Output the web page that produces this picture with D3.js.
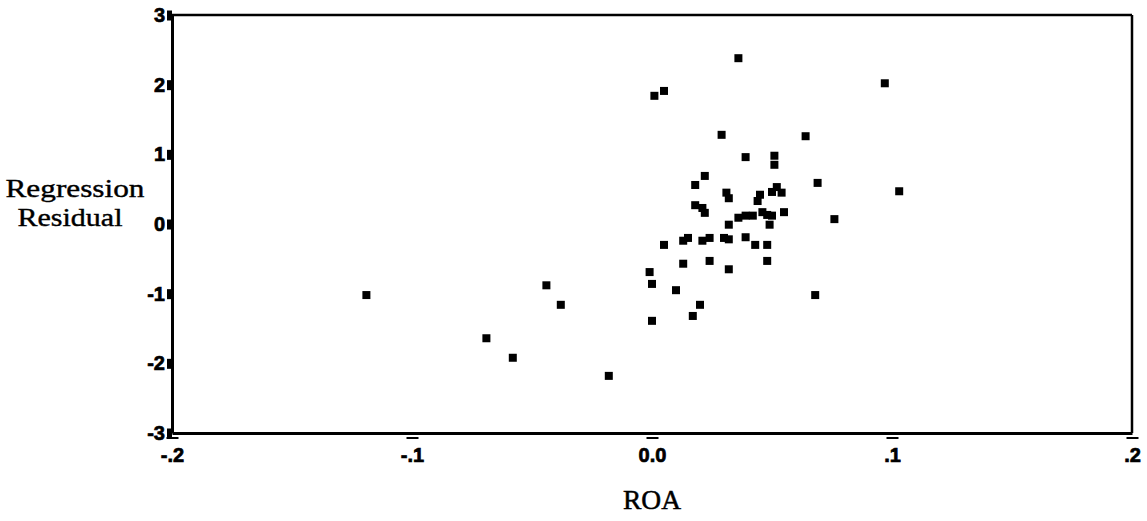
<!DOCTYPE html>
<html>
<head>
<meta charset="utf-8">
<script src="https://cdn.jsdelivr.net/npm/d3@7"></script>
<style>
  body { margin: 0; background: #fff; }
  svg { display: block; }
</style>
</head>
<body>
<div id="chart"></div>
<script>
const width = 1147;
const height = 521;

// ROA (x) and regression residual (y) for each case
const roa = [
  -0.119, -0.044, -0.038, -0.069, -0.058, -0.018,
  0.036, 0.001, 0.005, 0.029, 0.064, 0.039, 0.051, 0.051, 0.022,
  0.097, 0.069, 0.103, 0.076, 0.018, 0.031, 0.032, 0.052, 0.050,
  0.054, 0.045, 0.044, 0.018, 0.021, 0.022, 0.032, 0.036, 0.039,
  0.042, 0.046, 0.048, 0.050, 0.055, 0.049, 0.005, 0.013, 0.015,
  0.021, 0.024, 0.030, 0.032, 0.039, 0.043, 0.048, 0.013, 0.024,
  0.032, 0.048, -0.001, 0.000, 0.010, 0.068, 0.020, 0.017, 0.000
];
const residual = [
  -1.02, -0.88, -1.16, -1.64, -1.92, -2.18,
  2.38, 1.84, 1.91, 1.28, 1.26, 0.96, 0.98, 0.85, 0.69,
  2.02, 0.59, 0.47, 0.07, 0.56, 0.45, 0.37, 0.53, 0.46,
  0.45, 0.42, 0.33, 0.27, 0.23, 0.16, -0.01, 0.09, 0.12,
  0.12, 0.17, 0.13, 0.12, 0.17, -0.01, -0.30, -0.24, -0.20,
  -0.24, -0.20, -0.20, -0.22, -0.19, -0.30, -0.30, -0.57, -0.53,
  -0.65, -0.53, -0.69, -0.86, -0.95, -1.02, -1.16, -1.32, -1.39
];

const xTicks = [-0.2, -0.1, 0, 0.1, 0.2];
const xTickLabels = ["-.2", "-.1", "0.0", ".1", ".2"];
const yTicks = [-3, -2, -1, 0, 1, 2, 3];

const margin = { top: 15, right: 15, bottom: 88, left: 172 };
const innerW = width - margin.left - margin.right;
const innerH = height - margin.top - margin.bottom;

const svg = d3.select("#chart")
  .append("svg")
  .attr("width", width)
  .attr("height", height);

const g = svg.append("g")
  .attr("transform", `translate(${margin.left},${margin.top})`);

const x = d3.scaleLinear().domain([-0.2, 0.2]).range([0, innerW]);
const y = d3.scaleLinear().domain([-3, 3]).range([innerH, 0]);

// frame (top and right)
g.append("line")
  .attr("x1", 0).attr("x2", innerW).attr("y1", 0).attr("y2", 0)
  .attr("stroke", "#000").attr("stroke-width", 2.5);
g.append("line")
  .attr("x1", innerW).attr("x2", innerW).attr("y1", 0).attr("y2", innerH)
  .attr("stroke", "#000").attr("stroke-width", 2.5);

// axes
const xAxis = g.append("g")
  .attr("transform", `translate(0,${innerH})`)
  .call(d3.axisBottom(x)
    .tickValues(xTicks)
    .tickSize(0)
    .tickPadding(15)
    .tickFormat((d, i) => xTickLabels[i]));

const yAxis = g.append("g")
  .call(d3.axisLeft(y)
    .tickValues(yTicks)
    .tickSize(0)
    .tickPadding(7)
    .tickFormat(d => String(d)));

[xAxis, yAxis].forEach(a => {
  a.attr("font-family", null).attr("font-size", null);
  a.select(".domain").attr("stroke", "#000").attr("stroke-width", 3);
  a.selectAll("text")
    .attr("fill", "#000")
    .attr("stroke", "#000")
    .attr("stroke-width", 0.7)
    .attr("font-family", "Arial, Liberation Sans, sans-serif")
    .attr("font-size", 20)
    .attr("font-weight", 700);
});

// tick marks: short dashes under the x axis, small blocks left of the y axis
xAxis.selectAll(".tick")
  .append("line")
  .attr("x1", -6).attr("x2", 6)
  .attr("y1", 5).attr("y2", 5)
  .attr("stroke", "#000").attr("stroke-width", 2);

yAxis.selectAll(".tick")
  .append("rect")
  .attr("x", -5).attr("y", -5)
  .attr("width", 5).attr("height", 10)
  .attr("fill", "#000");

// points
g.selectAll(".pt")
  .data(roa.map((d, i) => ({ x: d, y: residual[i] })))
  .enter()
  .append("rect")
  .attr("class", "pt")
  .attr("x", d => x(d.x) - 4)
  .attr("y", d => y(d.y) - 4)
  .attr("width", 8).attr("height", 8)
  .attr("fill", "#000");

// axis titles
const serif = "Liberation Serif, Times New Roman, serif";

svg.append("text")
  .attr("x", 75).attr("y", 197)
  .attr("text-anchor", "middle")
  .attr("textLength", 139)
  .attr("lengthAdjust", "spacingAndGlyphs")
  .attr("font-family", serif)
  .attr("font-size", 26)
  .attr("stroke", "#000")
  .attr("stroke-width", 0.4)
  .text("Regression");

svg.append("text")
  .attr("x", 70).attr("y", 226)
  .attr("text-anchor", "middle")
  .attr("textLength", 105)
  .attr("lengthAdjust", "spacingAndGlyphs")
  .attr("font-family", serif)
  .attr("font-size", 26)
  .attr("stroke", "#000")
  .attr("stroke-width", 0.4)
  .text("Residual");

svg.append("text")
  .attr("x", margin.left + x(0)).attr("y", 509)
  .attr("text-anchor", "middle")
  .attr("textLength", 58)
  .attr("lengthAdjust", "spacingAndGlyphs")
  .attr("font-family", serif)
  .attr("font-size", 27)
  .attr("stroke", "#000")
  .attr("stroke-width", 0.5)
  .text("ROA");
</script>
</body>
</html>
